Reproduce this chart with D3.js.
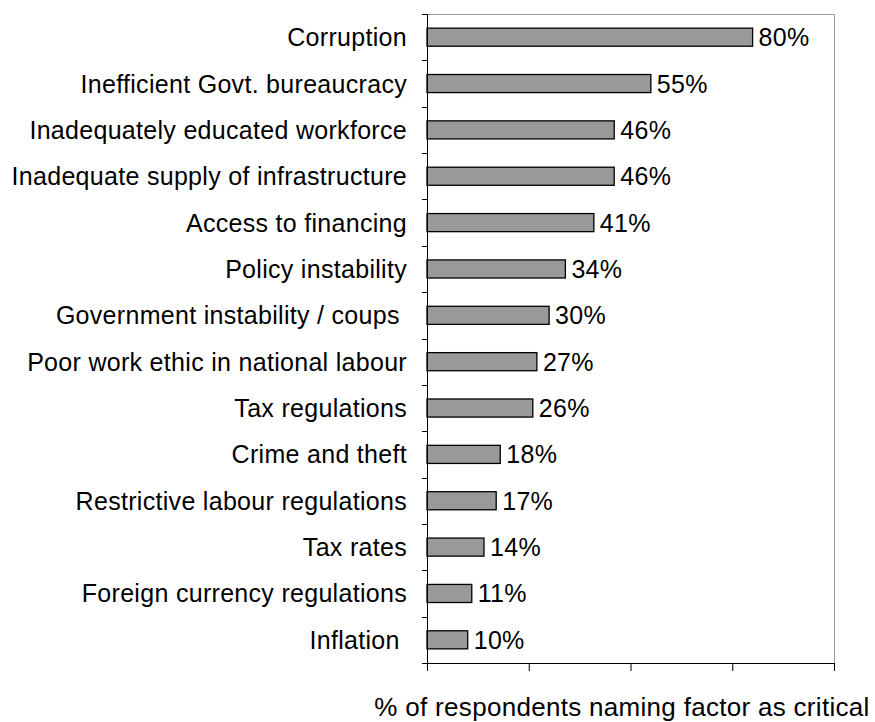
<!DOCTYPE html>
<html>
<head>
<meta charset="utf-8">
<script src="https://cdn.jsdelivr.net/npm/d3@7"></script>
<style>
  body { margin: 0; background: #fff; }
  text { font-family: "Liberation Sans", Arial, sans-serif; white-space: pre; letter-spacing: 0.3px; }
</style>
</head>
<body>
<div class="chart"></div>
<script>
// factors, top to bottom
const factors = [
  'Corruption',
  'Inefficient Govt. bureaucracy',
  'Inadequately educated workforce',
  'Inadequate supply of infrastructure',
  'Access to financing',
  'Policy instability',
  'Government instability / coups ',
  'Poor work ethic in national labour',
  'Tax regulations',
  'Crime and theft',
  'Restrictive labour regulations',
  'Tax rates',
  'Foreign currency regulations',
  'Inflation '
];
const shares = [80, 55, 46, 46, 41, 34, 30, 27, 26, 18, 17, 14, 11, 10];
const xTicks = [0, 25, 50, 75, 100];
const axisTitle = '% of respondents naming factor as critical';

const width = 875;
const height = 722;
const plot = { left: 427, right: 834, top: 14, bottom: 663 };
const fontSize = 25;

const svg = d3.select('.chart')
  .append('svg')
  .attr('width', width)
  .attr('height', height);

const xScale = d3.scaleLinear()
  .domain([0, 100])
  .range([plot.left, plot.right]);

const yScale = d3.scaleBand()
  .domain(factors)
  .range([plot.top, plot.bottom])
  .paddingInner(0.61)
  .paddingOuter(0.305);

// frame (top and right, grey)
svg.append('path')
  .attr('fill', 'none')
  .attr('stroke', '#999')
  .attr('stroke-width', 1)
  .attr('d', `M${plot.left},${plot.top + 0.5}H${plot.right + 0.5}V${plot.bottom}`);

// bars
svg.append('g')
  .selectAll('rect')
  .data(shares)
  .join('rect')
  .attr('x', xScale(0))
  .attr('y', (d, i) => yScale(factors[i]))
  .attr('width', d => xScale(d) - xScale(0))
  .attr('height', yScale.bandwidth())
  .attr('fill', '#999999')
  .attr('stroke', '#000')
  .attr('stroke-width', 1.3);

// value labels
svg.append('g')
  .selectAll('text')
  .data(shares)
  .join('text')
  .attr('x', d => xScale(d) + 6)
  .attr('y', (d, i) => yScale(factors[i]) + yScale.bandwidth() / 2)
  .attr('dy', '0.36em')
  .attr('font-size', fontSize)
  .attr('fill', '#000')
  .text(d => d + '%');

// y axis: line with outward ticks at band edges
const yAxis = svg.append('g');
yAxis.append('line')
  .attr('x1', plot.left + 0.5).attr('x2', plot.left + 0.5)
  .attr('y1', plot.top).attr('y2', plot.bottom)
  .attr('stroke', '#000');
const bandEdges = factors.map(f => yScale(f) - yScale.step() * yScale.paddingInner() / 2)
  .concat([plot.bottom]);
yAxis.selectAll('.tick')
  .data(bandEdges)
  .join('line')
  .attr('x1', plot.left - 5).attr('x2', plot.left)
  .attr('y1', d => Math.round(d) + 0.5).attr('y2', d => Math.round(d) + 0.5)
  .attr('stroke', '#000');

// category labels
svg.append('g')
  .selectAll('text')
  .data(factors)
  .join('text')
  .attr('x', 407)
  .attr('y', d => yScale(d) + yScale.bandwidth() / 2)
  .attr('dy', '0.36em')
  .attr('text-anchor', 'end')
  .attr('font-size', fontSize)
  .attr('fill', '#000')
  .text(d => d);

// x axis, ticks without labels
const xAxis = d3.axisBottom(xScale)
  .tickValues(xTicks)
  .tickSize(8)
  .tickSizeOuter(0)
  .tickFormat('');
svg.append('g')
  .attr('transform', `translate(0, ${plot.bottom})`)
  .call(xAxis)
  .call(g => g.select('.domain').attr('stroke', '#000'))
  .call(g => g.selectAll('.tick line').attr('stroke', '#000'));

// axis title
svg.append('text')
  .attr('x', 622)
  .attr('y', 716)
  .attr('text-anchor', 'middle')
  .attr('font-size', 26)
  .attr('letter-spacing', 0.35)
  .attr('fill', '#000')
  .text(axisTitle);
</script>
</body>
</html>
